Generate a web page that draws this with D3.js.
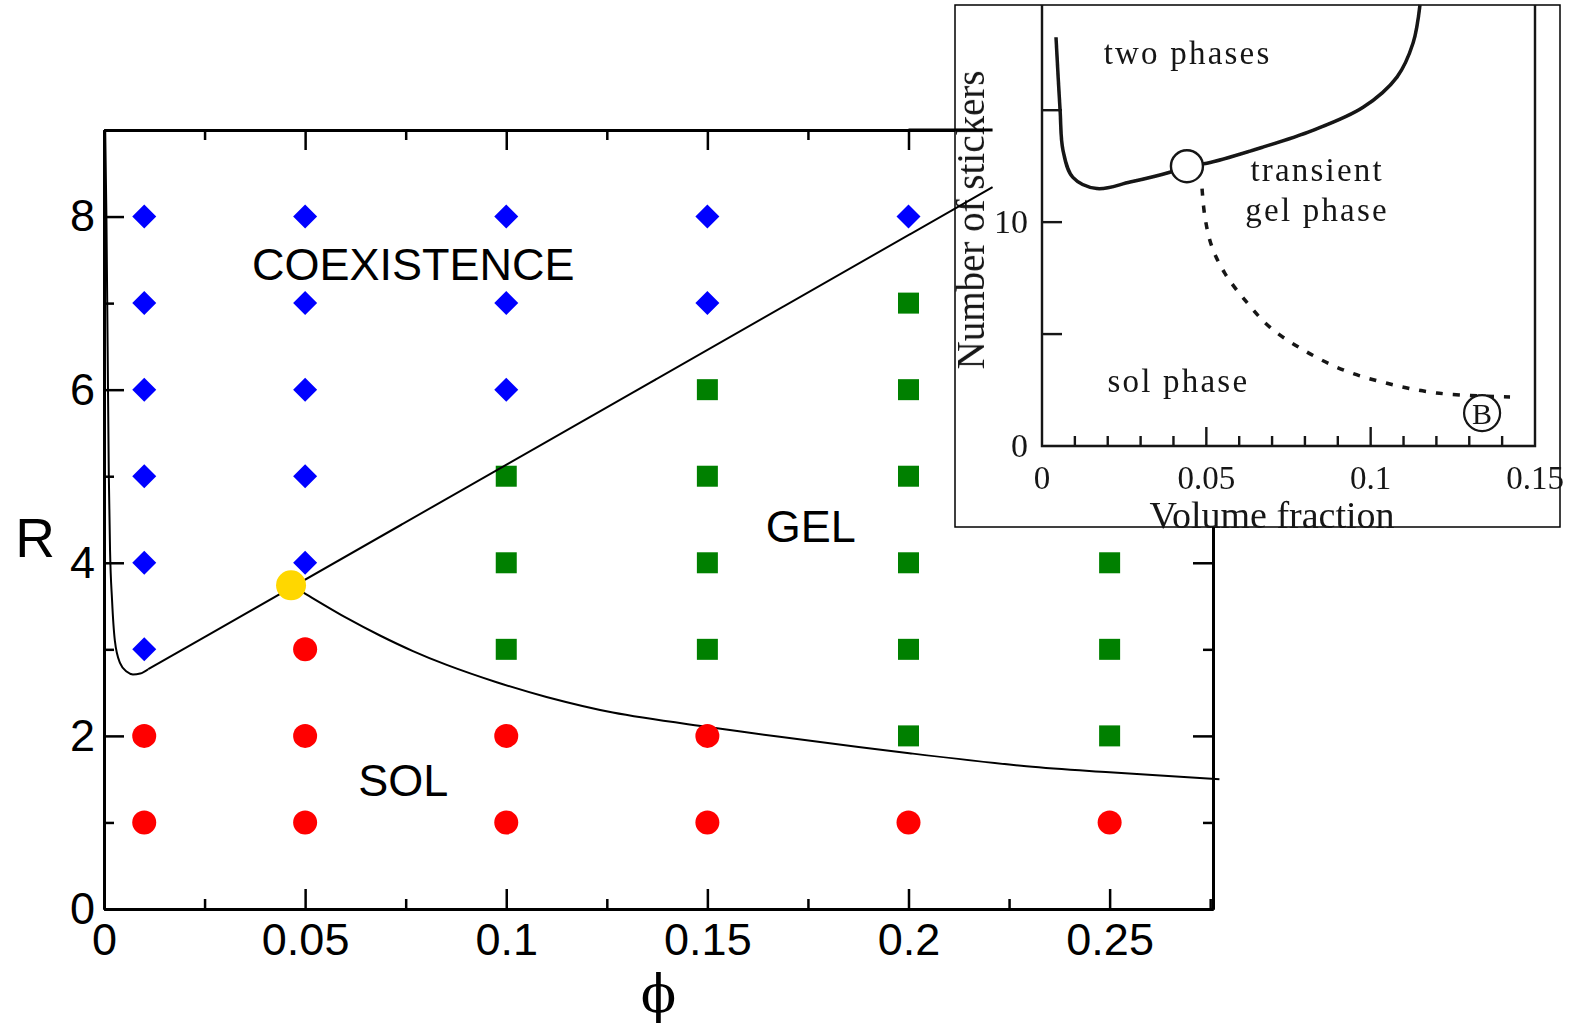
<!DOCTYPE html>
<html>
<head>
<meta charset="utf-8">
<script src="https://cdn.jsdelivr.net/npm/d3@7"></script>
<style>
  html, body { margin: 0; padding: 0; background: #fff; }
  svg { display: block; }
</style>
</head>
<body>
<svg id="chart" width="1571" height="1030"></svg>
<script>
// ---- Main phase diagram: simulation state points ----
const coexPhi = [0.01, 0.01, 0.01, 0.01, 0.01, 0.01, 0.05, 0.05, 0.05, 0.05, 0.05, 0.1, 0.1, 0.1, 0.15, 0.15, 0.2];
const coexR   = [3, 4, 5, 6, 7, 8, 4, 5, 6, 7, 8, 6, 7, 8, 7, 8, 8];

const gelPhi = [0.1, 0.1, 0.1, 0.15, 0.15, 0.15, 0.15, 0.2, 0.2, 0.2, 0.2, 0.2, 0.2, 0.25, 0.25, 0.25];
const gelR   = [3, 4, 5, 3, 4, 5, 6, 2, 3, 4, 5, 6, 7, 2, 3, 4];

const solPhi = [0.01, 0.01, 0.05, 0.05, 0.05, 0.1, 0.1, 0.15, 0.15, 0.2, 0.25];
const solR   = [1, 2, 1, 2, 3, 1, 2, 1, 2, 1, 1];

// critical point where the three phases meet
const critPhi = [0.0465];
const critR   = [3.74];

// coexistence boundary: steep low-phi branch ...
const binodalPhi = [0.0003, 0.0006, 0.0009, 0.0012, 0.0015, 0.002, 0.0027, 0.004, 0.0057, 0.0072, 0.009, 0.011];
const binodalR   = [9.0, 8.0, 6.5, 5.0, 4.15, 3.57, 3.1, 2.84, 2.74, 2.71, 2.72, 2.77];
// ... and the straight coexistence / gel boundary
const gelLinePhi = [0.011, 0.2209];
const gelLineR   = [2.77, 8.34];

// sol-gel (percolation) boundary
const percPhi = [0.0465, 0.0494, 0.0604, 0.0686, 0.0768, 0.0852, 0.0976, 0.110, 0.1265, 0.1506, 0.168, 0.2002, 0.2293, 0.25, 0.2773];
const percR   = [3.74, 3.66, 3.36, 3.16, 2.98, 2.82, 2.62, 2.45, 2.27, 2.10, 1.99, 1.80, 1.65, 1.58, 1.50];

const xMajor = [0, 0.05, 0.1, 0.15, 0.2, 0.25];
const xMinor = [0.025, 0.075, 0.125, 0.175, 0.225, 0.275];
const yMajor = [0, 2, 4, 6, 8];
const yMinor = [1, 3, 5, 7, 9];

const regionLabels = ["COEXISTENCE", "GEL", "SOL"];
const regionPhi    = [0.0769, 0.1757, 0.0744];
const regionR      = [7.27, 4.24, 1.3];

// ---- Inset: schematic diagram ----
const insetCurvePhi = [0.00426, 0.0055, 0.0064, 0.0094, 0.0167, 0.0268, 0.0389, 0.0441, 0.0502, 0.0672, 0.0824, 0.0977, 0.108, 0.1129, 0.1150];
const insetCurveN   = [18.26, 15.0, 13.2, 12.0, 11.5, 11.79, 12.23, 12.5, 12.63, 13.35, 14.1, 15.13, 16.48, 18.0, 19.7];
const insetDashPhi  = [0.0487, 0.0496, 0.0517, 0.0557, 0.0624, 0.0694, 0.0794, 0.0916, 0.105, 0.120, 0.1424];
const insetDashN    = [11.5, 10.2, 8.9, 7.7, 6.4, 5.3, 4.3, 3.4, 2.8, 2.37, 2.19];
const insetCritPhi  = [0.0441];
const insetCritN    = [12.5];
const insetBPhi     = [0.1339];
const insetBN       = [1.47];
const insetXLabels  = [0, 0.05, 0.1, 0.15];
const insetXMinor   = [0.01, 0.02, 0.03, 0.04, 0.06, 0.07, 0.08, 0.09, 0.11, 0.12, 0.13, 0.14];
const insetYMajor   = [5, 10, 15];
const insetYLabels  = [0, 10];
const insetTexts    = [["two phases"], ["transient", "gel phase"], ["sol phase"]];
const insetTextPhi  = [0.0443, 0.0837, 0.0415];
const insetTextN    = [17.05, 11.83, 2.42];

const svg = d3.select("#chart");
const sans = "'Liberation Sans', Arial, sans-serif";
const serif = "'Liberation Serif', 'Times New Roman', serif";

// ================= main plot =================
const x = d3.scaleLinear().domain([0, 0.2757]).range([104, 1213]);
const y = d3.scaleLinear().domain([0, 9]).range([909, 130]);

const main = svg.append("g");

function styleAxis(g, width) {
  g.select(".domain").attr("stroke", "#000").attr("stroke-width", width);
  g.selectAll(".tick line").attr("stroke", "#000").attr("stroke-width", 2.5);
  g.selectAll(".tick text").attr("fill", "#000").attr("font-family", sans).attr("font-size", 45);
}

const fmt = d => String(d);
const minorX = xMinor.filter(v => v < x.domain()[1]);
// bottom
main.append("g").attr("transform", `translate(0,${y(0)})`)
  .call(d3.axisBottom(x).tickValues(minorX).tickSize(-10).tickFormat("").tickSizeOuter(0))
  .call(g => styleAxis(g, 3));
main.append("g").attr("transform", `translate(0,${y(0)})`)
  .call(d3.axisBottom(x).tickValues(xMajor).tickSize(-20).tickPadding(14).tickFormat(fmt).tickSizeOuter(0))
  .call(g => styleAxis(g, 3));
// top
main.append("g").attr("transform", `translate(0,${y(9)})`)
  .call(d3.axisTop(x).tickValues(minorX).tickSize(-10).tickFormat("").tickSizeOuter(0))
  .call(g => styleAxis(g, 3));
main.append("g").attr("transform", `translate(0,${y(9)})`)
  .call(d3.axisTop(x).tickValues(xMajor).tickSize(-20).tickFormat("").tickSizeOuter(0))
  .call(g => styleAxis(g, 3));
// left
main.append("g").attr("transform", `translate(${x(0)},0)`)
  .call(d3.axisLeft(y).tickValues(yMinor).tickSize(-10).tickFormat("").tickSizeOuter(0))
  .call(g => styleAxis(g, 3));
main.append("g").attr("transform", `translate(${x(0)},0)`)
  .call(d3.axisLeft(y).tickValues(yMajor).tickSize(-20).tickPadding(9).tickFormat(fmt).tickSizeOuter(0))
  .call(g => styleAxis(g, 3));
// right
main.append("g").attr("transform", `translate(${x.range()[1]},0)`)
  .call(d3.axisRight(y).tickValues(yMinor).tickSize(-10).tickFormat("").tickSizeOuter(0))
  .call(g => styleAxis(g, 3));
main.append("g").attr("transform", `translate(${x.range()[1]},0)`)
  .call(d3.axisRight(y).tickValues(yMajor).tickSize(-20).tickFormat("").tickSizeOuter(0))
  .call(g => styleAxis(g, 3));

// axis titles
main.append("text").attr("x", 35).attr("y", y(4.3)).attr("dy", "0.36em")
  .attr("text-anchor", "middle").attr("font-family", sans).attr("font-size", 55).text("R");
main.append("text").attr("x", (x(0) + x.range()[1]) / 2 + 0).attr("y", 1012)
  .attr("text-anchor", "middle").attr("font-family", "'DejaVu Serif', serif").attr("font-size", 52).text("\u03D5");

// boundaries
const lineGen = (px, py) => d3.line().x((d, i) => x(px[i])).y((d, i) => y(py[i]));
main.append("path").datum(binodalPhi)
  .attr("d", lineGen(binodalPhi, binodalR).curve(d3.curveMonotoneX))
  .attr("fill", "none").attr("stroke", "#000").attr("stroke-width", 2);
main.append("path").datum(percPhi)
  .attr("d", lineGen(percPhi, percR).curve(d3.curveCatmullRom.alpha(0.5)))
  .attr("fill", "none").attr("stroke", "#000").attr("stroke-width", 2);

// state points
main.append("g").selectAll("path").data(coexPhi).join("path")
  .attr("transform", (d, i) => `translate(${x(d)},${y(coexR[i])})`)
  .attr("d", "M0,-12L12,0L0,12L-12,0Z").attr("fill", "#0000ff");
main.append("g").selectAll("rect").data(gelPhi).join("rect")
  .attr("x", d => x(d) - 10.5).attr("y", (d, i) => y(gelR[i]) - 10.5)
  .attr("width", 21).attr("height", 21).attr("fill", "#008000");
main.append("g").selectAll("circle").data(solPhi).join("circle")
  .attr("cx", d => x(d)).attr("cy", (d, i) => y(solR[i])).attr("r", 12).attr("fill", "#ff0000");

// region names
main.append("g").selectAll("text").data(regionLabels).join("text")
  .attr("x", (d, i) => x(regionPhi[i])).attr("y", (d, i) => y(regionR[i]))
  .attr("text-anchor", "middle").attr("font-family", sans).attr("font-size", 45).text(d => d);

// ================= inset =================
const ix = d3.scaleLinear().domain([0, 0.15]).range([1042, 1535]);
const iy = d3.scaleLinear().domain([0, 19.7]).range([446, 5]);

const defs = svg.append("defs");
defs.append("filter").attr("id", "soft").append("feGaussianBlur").attr("stdDeviation", 0.5);

const inset = svg.append("g");
inset.append("rect").attr("x", 955).attr("y", 5).attr("width", 605).attr("height", 522)
  .attr("fill", "#fff").attr("stroke", "#000").attr("stroke-width", 1.5);

const ig = inset.append("g").attr("filter", "url(#soft)");
const ink = "#141414";
// axis frame (left, bottom, right)
ig.append("path")
  .attr("d", `M${ix(0)},${iy.range()[1]}V${iy(0)}H${ix(0.15)}V${iy.range()[1]}`)
  .attr("fill", "none").attr("stroke", ink).attr("stroke-width", 2.4);
ig.append("g").selectAll("line").data(insetXMinor).join("line")
  .attr("x1", d => ix(d)).attr("x2", d => ix(d)).attr("y1", iy(0)).attr("y2", iy(0) - 10)
  .attr("stroke", ink).attr("stroke-width", 2.4);
ig.append("g").selectAll("line").data([0.05, 0.1]).join("line")
  .attr("x1", d => ix(d)).attr("x2", d => ix(d)).attr("y1", iy(0)).attr("y2", iy(0) - 19)
  .attr("stroke", ink).attr("stroke-width", 2.4);
ig.append("g").selectAll("line").data(insetYMajor).join("line")
  .attr("x1", ix(0)).attr("x2", ix(0) + 20).attr("y1", d => iy(d)).attr("y2", d => iy(d))
  .attr("stroke", ink).attr("stroke-width", 2.4);
ig.append("g").selectAll("text").data(insetXLabels).join("text")
  .attr("x", d => ix(d)).attr("y", iy(0) + 43)
  .attr("text-anchor", "middle").attr("font-family", serif).attr("font-size", 33).attr("fill", ink)
  .text(fmt);
ig.append("g").selectAll("text").data(insetYLabels).join("text")
  .attr("x", ix(0) - 14).attr("y", d => iy(d)).attr("dy", "0.33em")
  .attr("text-anchor", "end").attr("font-family", serif).attr("font-size", 34).attr("fill", ink)
  .text(fmt);
ig.append("text").attr("x", 1272).attr("y", 528).attr("text-anchor", "middle")
  .attr("font-family", serif).attr("font-size", 38).attr("fill", ink).text("Volume fraction");
ig.append("text").attr("transform", `translate(984,${iy(10.1)}) rotate(-90)`).attr("text-anchor", "middle")
  .attr("font-family", serif).attr("font-size", 39).attr("fill", ink).text("Number of stickers");

// schematic boundaries
const iline = (px, py) => d3.line().x((d, i) => ix(px[i])).y((d, i) => iy(py[i])).curve(d3.curveCatmullRom.alpha(0.5));
ig.append("path").datum(insetCurvePhi).attr("d", iline(insetCurvePhi, insetCurveN))
  .attr("fill", "none").attr("stroke", ink).attr("stroke-width", 3.5);
ig.append("path").datum(insetDashPhi).attr("d", iline(insetDashPhi, insetDashN))
  .attr("fill", "none").attr("stroke", ink).attr("stroke-width", 3.5).attr("stroke-dasharray", "7 10");
ig.selectAll("circle.icrit").data(insetCritPhi).join("circle").attr("class", "icrit")
  .attr("cx", d => ix(d)).attr("cy", (d, i) => iy(insetCritN[i])).attr("r", 16)
  .attr("fill", "#fff").attr("stroke", ink).attr("stroke-width", 2.4);
ig.selectAll("circle.bmark").data(insetBPhi).join("circle").attr("class", "bmark")
  .attr("cx", d => ix(d)).attr("cy", (d, i) => iy(insetBN[i])).attr("r", 18)
  .attr("fill", "#fff").attr("stroke", ink).attr("stroke-width", 2.2);
ig.selectAll("text.bmark").data(insetBPhi).join("text").attr("class", "bmark")
  .attr("x", d => ix(d)).attr("y", (d, i) => iy(insetBN[i])).attr("dy", "0.35em")
  .attr("text-anchor", "middle").attr("font-family", serif).attr("font-size", 30).attr("fill", ink).text("B");

// region names in the inset
insetTexts.forEach((lines, k) => {
  lines.forEach((t, j) => {
    ig.append("text").attr("x", ix(insetTextPhi[k])).attr("y", iy(insetTextN[k]) + j * 40)
      .attr("text-anchor", "middle").attr("font-family", serif).attr("font-size", 33)
      .attr("letter-spacing", 2.2).attr("fill", ink).text(t);
  });
});

// ================= overlays drawn above the inset =================
svg.append("path").datum(gelLinePhi)
  .attr("d", lineGen(gelLinePhi, gelLineR))
  .attr("fill", "none").attr("stroke", "#000").attr("stroke-width", 2);
svg.append("line").attr("x1", x(0.2)).attr("x2", x(gelLinePhi[1])).attr("y1", y(9)).attr("y2", y(9))
  .attr("stroke", "#000").attr("stroke-width", 3);
svg.append("g").selectAll("circle").data(critPhi).join("circle")
  .attr("cx", d => x(d)).attr("cy", (d, i) => y(critR[i])).attr("r", 15).attr("fill", "#ffd700");
</script>
</body>
</html>
